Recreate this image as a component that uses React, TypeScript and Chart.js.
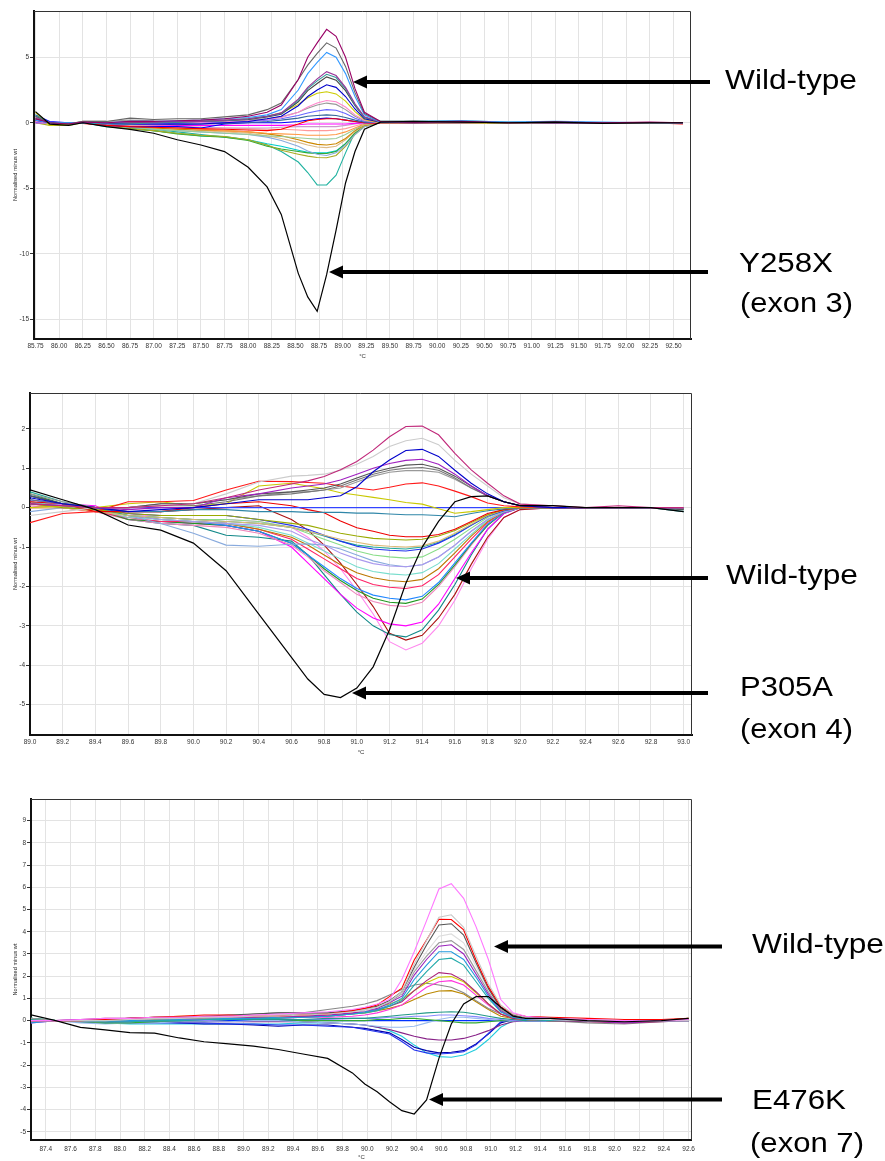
import React, { useEffect, useRef } from "react";
import { Chart, registerables } from "chart.js";

Chart.register(...registerables);

const FONT = "'Liberation Sans', Arial, Helvetica, sans-serif";

// ---------------- Panel 1 : exon 3 (Y258X) ----------------
const p1Temps = [85.75, 85.9, 86.1, 86.25, 86.5, 86.75, 87.0, 87.25, 87.5, 87.75, 88.0, 88.2, 88.35, 88.53, 88.63, 88.73, 88.83, 88.93, 89.03, 89.13, 89.23, 89.4, 89.75, 90.25, 90.75, 91.25, 91.75, 92.25, 92.6];
const p1XTicks = { min: 85.734, max: 92.685, step: 0.25, decimals: 2 };
const p1YTicks = { min: -16.51, max: 8.53, step: 5 };
const p1Y258X = [0.85, -0.1, -0.2, 0.0, -0.3, -0.5, -0.8, -1.3, -1.7, -2.2, -3.4, -4.9, -7.0, -11.5, -13.3, -14.4, -11.6, -8.2, -4.6, -2.2, -0.5, 0.05, 0.1, 0.05, 0.0, 0.05, -0.05, 0.0, 0.0];
const p1Purple = [0.3, 0.0, -0.1, 0.05, 0.0, 0.1, 0.1, 0.15, 0.2, 0.3, 0.5, 0.8, 1.35, 3.3, 5.0, 6.1, 7.13, 6.6, 5.0, 2.6, 0.8, 0.1, 0.05, 0.1, 0.0, 0.05, 0.0, 0.05, 0.0];
const p1DarkGrey = [0.5, 0.0, -0.1, 0.1, 0.1, 0.35, 0.25, 0.3, 0.3, 0.45, 0.6, 1.0, 1.5, 3.3, 4.4, 5.3, 6.1, 5.7, 4.3, 2.3, 0.7, 0.1, 0.1, 0.05, 0.0, 0.05, 0.0, 0.0, 0.0];
const p1Dodger = [0.2, 0.0, 0.0, 0.0, 0.0, 0.1, 0.1, 0.15, 0.2, 0.3, 0.4, 0.6, 1.0, 2.5, 3.75, 4.6, 5.37, 5.0, 3.75, 2.0, 0.6, 0.05, 0.1, 0.15, 0.05, 0.1, 0.05, 0.0, 0.0];
const p1Violet = [0.4, 0.0, -0.05, 0.05, 0.0, 0.05, 0.05, 0.1, 0.1, 0.2, 0.3, 0.5, 0.75, 1.8, 2.7, 3.35, 3.9, 3.6, 2.7, 1.45, 0.45, 0.05, 0.05, 0.05, 0.0, 0.0, 0.0, 0.0, 0.0];
const p1Teal = [0.6, 0.0, 0.0, 0.0, -0.1, -0.1, 0.0, 0.05, 0.1, 0.15, 0.3, 0.5, 0.7, 1.7, 2.6, 3.2, 3.7, 3.45, 2.6, 1.35, 0.4, 0.1, 0.1, 0.15, 0.05, 0.05, 0.0, 0.0, 0.0];
const p1Slate = [0.3, 0.0, 0.0, 0.0, 0.0, 0.0, 0.05, 0.05, 0.1, 0.15, 0.25, 0.45, 0.65, 1.6, 2.45, 3.0, 3.5, 3.25, 2.45, 1.3, 0.4, 0.05, 0.05, 0.05, 0.0, 0.0, 0.0, 0.0, 0.0];
const p1Navy = [0.2, 0.0, 0.0, 0.0, -0.05, -0.1, -0.1, -0.1, -0.1, 0.0, 0.1, 0.3, 0.5, 1.3, 2.0, 2.5, 2.9, 2.7, 2.0, 1.05, 0.3, 0.05, 0.0, 0.05, 0.0, 0.0, 0.0, 0.0, 0.0];
const p1Yellow = [0.8, -0.2, -0.1, 0.0, 0.0, 0.0, 0.05, 0.1, 0.15, 0.2, 0.3, 0.5, 0.75, 1.4, 1.9, 2.25, 2.37, 2.2, 1.65, 0.85, 0.25, 0.0, 0.0, 0.0, -0.05, 0.0, 0.0, -0.05, 0.0];
const p1Pink = [0.1, 0.0, 0.0, 0.0, 0.0, 0.0, 0.0, 0.05, 0.05, 0.1, 0.15, 0.25, 0.4, 0.8, 1.2, 1.5, 1.7, 1.6, 1.2, 0.6, 0.2, 0.0, 0.0, 0.0, 0.0, 0.0, 0.0, 0.0, 0.0];
const p1Grey = [0.3, 0.0, -0.1, 0.1, 0.1, 0.2, 0.15, 0.1, 0.1, 0.15, 0.2, 0.3, 0.45, 0.8, 1.1, 1.35, 1.5, 1.4, 1.0, 0.5, 0.15, 0.0, 0.0, 0.0, 0.0, 0.0, 0.0, 0.0, 0.0];
const p1Periwinkle = [0.0, 0.0, 0.0, 0.0, -0.05, -0.1, -0.1, -0.05, 0.0, 0.05, 0.1, 0.2, 0.3, 0.55, 0.75, 0.9, 1.0, 0.95, 0.7, 0.35, 0.1, 0.0, 0.0, 0.0, 0.0, 0.0, 0.0, 0.0, 0.0];
const p1Steel = [0.1, 0.0, 0.0, 0.0, -0.05, -0.1, -0.1, -0.15, -0.1, -0.05, 0.0, 0.1, 0.2, 0.35, 0.5, 0.55, 0.6, 0.55, 0.4, 0.2, 0.05, 0.0, 0.0, 0.0, 0.0, 0.0, 0.0, 0.0, 0.0];
const p1Red = [0.2, 0.0, 0.0, -0.05, -0.2, -0.3, -0.35, -0.4, -0.45, -0.5, -0.55, -0.6, -0.5, -0.1, 0.15, 0.25, 0.3, 0.3, 0.2, 0.1, 0.0, -0.05, -0.05, 0.0, 0.0, 0.0, 0.0, 0.0, -0.1];
const p1Blue = [0.6, 0.1, 0.0, 0.0, -0.2, -0.3, -0.3, -0.3, -0.4, -0.1, 0.0, 0.0, 0.0, 0.1, 0.2, 0.3, 0.35, 0.3, 0.2, 0.1, 0.0, 0.0, 0.0, 0.0, 0.0, 0.0, 0.0, 0.0, 0.0];
const p1Magenta = [0.0, 0.0, 0.0, 0.0, -0.1, -0.1, -0.15, -0.2, -0.2, -0.2, -0.2, -0.2, -0.2, -0.15, -0.1, -0.1, -0.1, -0.1, -0.1, -0.05, 0.0, 0.0, 0.0, 0.0, 0.0, 0.0, 0.0, 0.0, 0.0];
const p1Mauve = [0.0, 0.0, 0.0, 0.0, -0.1, -0.15, -0.2, -0.3, -0.35, -0.4, -0.4, -0.4, -0.35, -0.3, -0.3, -0.3, -0.3, -0.3, -0.2, -0.1, 0.0, 0.0, 0.0, 0.0, 0.0, 0.0, 0.0, 0.0, 0.0];
const p1Coral = [0.2, 0.0, 0.0, 0.0, -0.1, -0.2, -0.25, -0.3, -0.35, -0.4, -0.45, -0.5, -0.5, -0.55, -0.6, -0.6, -0.6, -0.55, -0.45, -0.25, -0.05, 0.0, 0.0, 0.0, 0.0, 0.0, 0.0, 0.0, 0.0];
const p1Salmon = [0.1, 0.0, 0.0, 0.0, -0.1, -0.2, -0.3, -0.4, -0.5, -0.6, -0.7, -0.8, -0.85, -0.9, -0.95, -0.95, -0.95, -0.9, -0.7, -0.4, -0.1, 0.0, 0.0, 0.0, 0.0, 0.0, 0.0, 0.0, 0.0];
const p1LightGreen = [0.3, 0.0, -0.1, 0.0, -0.2, -0.35, -0.5, -0.6, -0.7, -0.8, -0.9, -1.0, -1.05, -1.15, -1.2, -1.25, -1.25, -1.2, -0.9, -0.5, -0.15, 0.0, 0.0, 0.0, 0.0, 0.0, 0.0, 0.0, 0.0];
const p1Brown = [0.0, 0.0, 0.0, 0.0, -0.2, -0.3, -0.4, -0.5, -0.55, -0.6, -0.7, -0.85, -1.0, -1.3, -1.5, -1.65, -1.7, -1.6, -1.2, -0.6, -0.2, 0.0, 0.0, 0.0, 0.0, 0.0, 0.0, 0.0, 0.0];
const p1Tan = [0.0, 0.0, 0.0, 0.0, -0.2, -0.3, -0.4, -0.5, -0.6, -0.7, -0.8, -1.0, -1.2, -1.5, -1.7, -1.85, -1.9, -1.8, -1.3, -0.7, -0.2, 0.0, 0.0, 0.0, 0.0, 0.0, 0.0, 0.0, 0.0];
const p1LightBlue = [0.0, 0.0, 0.0, 0.0, -0.2, -0.35, -0.5, -0.6, -0.7, -0.8, -0.9, -1.1, -1.35, -1.8, -2.15, -2.4, -2.5, -2.3, -1.7, -0.9, -0.3, 0.0, 0.0, 0.0, 0.0, 0.0, 0.0, 0.0, 0.0];
const p1Olive = [0.0, -0.2, -0.2, 0.0, -0.2, -0.45, -0.6, -0.8, -0.95, -1.05, -1.3, -1.7, -2.1, -2.4, -2.55, -2.65, -2.67, -2.5, -1.8, -0.9, -0.3, 0.0, 0.0, 0.0, 0.0, 0.0, 0.0, 0.0, 0.0];
const p1Green = [0.2, 0.0, -0.1, 0.0, -0.25, -0.45, -0.6, -0.85, -1.0, -1.1, -1.35, -1.8, -2.0, -2.2, -2.3, -2.35, -2.35, -2.2, -1.6, -0.8, -0.25, 0.0, 0.0, 0.0, 0.0, 0.0, 0.0, 0.0, 0.0];
const p1Cyan = [0.3, 0.0, 0.0, 0.0, -0.3, -0.45, -0.6, -0.8, -1.0, -1.05, -1.3, -1.6, -1.8, -2.1, -2.25, -2.3, -2.3, -2.15, -1.6, -0.8, -0.2, 0.0, 0.0, 0.0, 0.0, 0.0, 0.0, 0.0, 0.0];
const p1Turquoise = [0.5, 0.0, -0.1, 0.0, -0.2, -0.4, -0.5, -0.7, -0.9, -1.1, -1.3, -1.7, -2.2, -3.0, -3.8, -4.75, -4.75, -4.0, -2.3, -0.7, 0.1, 0.05, 0.0, 0.0, 0.0, 0.0, 0.0, 0.0, 0.0];

const p1Lines: [number[], string][] = [
  [p1Y258X, "#000000"], [p1Purple, "#990066"], [p1DarkGrey, "#666666"], [p1Dodger, "#3399ff"],
  [p1Violet, "#993399"], [p1Teal, "#339999"], [p1Slate, "#444444"], [p1Navy, "#0000cc"],
  [p1Yellow, "#cccc00"], [p1Pink, "#ff88cc"], [p1Grey, "#999999"], [p1Periwinkle, "#6666ff"],
  [p1Steel, "#336699"], [p1Red, "#ff0000"], [p1Blue, "#0000ff"], [p1Magenta, "#ff00ff"],
  [p1Mauve, "#cc99cc"], [p1Coral, "#ff9999"], [p1Salmon, "#ff9944"], [p1LightGreen, "#99cc99"],
  [p1Brown, "#cc8800"], [p1Tan, "#ddbb88"], [p1LightBlue, "#88aadd"], [p1Olive, "#aaaa22"],
  [p1Green, "#33aa33"], [p1Cyan, "#00cccc"], [p1Turquoise, "#20b2a0"],
];

// ---------------- Panel 2 : exon 4 (P305A) ----------------
const p2Temps = [89.0, 89.2, 89.4, 89.6, 89.8, 90.0, 90.2, 90.4, 90.6, 90.7, 90.8, 90.9, 91.0, 91.1, 91.2, 91.3, 91.4, 91.5, 91.6, 91.7, 91.8, 91.9, 92.0, 92.2, 92.4, 92.6, 92.8, 93.0];
const p2XTicks = { min: 89.0, max: 93.051, step: 0.2, decimals: 1 };
const p2YTicks = { min: -5.77, max: 2.91, step: 1 };
const p2P305A = [0.45, 0.2, -0.05, -0.44, -0.57, -0.9, -1.6, -2.7, -3.8, -4.35, -4.74, -4.82, -4.58, -4.04, -3.1, -1.92, -1.0, -0.35, 0.15, 0.28, 0.3, 0.15, 0.05, 0.05, 0.0, 0.0, 0.0, -0.1];
const p2Maroon = [0.1, 0.05, 0.0, 0.0, 0.05, 0.1, 0.25, 0.45, 0.6, 0.68, 0.79, 0.96, 1.17, 1.46, 1.8, 2.06, 2.07, 1.85, 1.38, 0.96, 0.62, 0.3, 0.09, 0.05, 0.0, 0.05, 0.0, 0.0];
const p2LightGrey = [-0.2, -0.1, 0.0, 0.0, 0.05, 0.1, 0.35, 0.65, 0.8, 0.82, 0.85, 0.95, 1.1, 1.3, 1.55, 1.7, 1.76, 1.6, 1.2, 0.85, 0.55, 0.25, 0.1, 0.05, 0.0, 0.0, 0.0, 0.0];
const p2Navy = [0.25, 0.1, 0.0, -0.1, -0.05, 0.0, 0.1, 0.2, 0.2, 0.2, 0.25, 0.3, 0.53, 0.91, 1.21, 1.45, 1.48, 1.3, 0.95, 0.62, 0.35, 0.15, 0.05, 0.0, 0.0, 0.0, 0.0, 0.0];
const p2Purple = [0.1, 0.05, 0.0, -0.05, 0.0, 0.0, 0.25, 0.35, 0.5, 0.55, 0.6, 0.7, 0.85, 1.0, 1.12, 1.2, 1.23, 1.1, 0.85, 0.55, 0.3, 0.15, 0.05, 0.0, 0.0, 0.0, 0.0, 0.0];
const p2DarkGrey = [0.3, 0.1, 0.0, 0.0, 0.1, 0.1, 0.2, 0.35, 0.4, 0.45, 0.5, 0.6, 0.75, 0.9, 1.0, 1.08, 1.1, 1.0, 0.8, 0.55, 0.3, 0.15, 0.05, 0.0, 0.0, 0.0, 0.0, -0.05];
const p2Grey = [0.2, 0.1, 0.0, 0.0, 0.05, 0.05, 0.15, 0.3, 0.35, 0.4, 0.45, 0.55, 0.7, 0.85, 0.95, 1.0, 1.02, 0.95, 0.75, 0.5, 0.3, 0.15, 0.05, 0.0, 0.0, 0.0, 0.0, 0.0];
const p2Silver = [0.35, 0.15, 0.0, 0.0, 0.1, 0.1, 0.2, 0.3, 0.4, 0.4, 0.45, 0.5, 0.65, 0.8, 0.9, 0.94, 0.94, 0.9, 0.72, 0.5, 0.3, 0.15, 0.05, 0.0, 0.0, 0.0, 0.0, 0.0];
const p2Red = [-0.38, -0.15, -0.1, 0.15, 0.15, 0.18, 0.45, 0.67, 0.66, 0.64, 0.62, 0.55, 0.5, 0.45, 0.52, 0.6, 0.63, 0.55, 0.42, 0.28, 0.12, 0.05, 0.02, 0.0, 0.0, 0.0, 0.0, 0.0];
const p2Yellow = [0.0, 0.05, 0.0, 0.1, 0.15, 0.05, 0.1, 0.55, 0.62, 0.55, 0.48, 0.38, 0.32, 0.26, 0.2, 0.13, 0.09, -0.03, -0.14, -0.1, -0.05, 0.0, 0.0, 0.0, 0.0, 0.0, 0.0, 0.0];
const p2Baseline = [0.2, 0.1, 0.0, 0.0, 0.0, 0.0, 0.0, 0.0, 0.0, 0.0, 0.0, 0.0, 0.0, 0.0, 0.0, 0.0, 0.0, 0.0, 0.0, 0.0, 0.0, 0.0, 0.0, 0.0, 0.0, 0.0, 0.0, 0.0];
const p2Steel = [0.1, 0.05, 0.0, -0.1, -0.1, -0.05, -0.05, -0.1, -0.1, -0.12, -0.12, -0.12, -0.14, -0.14, -0.16, -0.18, -0.18, -0.2, -0.23, -0.15, -0.08, -0.03, 0.0, 0.0, 0.0, 0.0, 0.0, 0.0];
const p2Red2 = [0.15, 0.1, -0.1, -0.1, -0.1, 0.0, 0.1, 0.15, 0.05, -0.05, -0.13, -0.34, -0.51, -0.6, -0.7, -0.74, -0.74, -0.68, -0.55, -0.35, -0.15, -0.05, 0.0, 0.0, 0.0, 0.0, 0.0, 0.0];
const p2Olive = [0.1, 0.0, -0.05, -0.15, -0.2, -0.2, -0.2, -0.3, -0.4, -0.45, -0.55, -0.65, -0.72, -0.78, -0.8, -0.82, -0.8, -0.72, -0.58, -0.38, -0.18, -0.05, 0.0, 0.0, 0.0, 0.0, 0.0, 0.0];
const p2Tan = [0.0, 0.0, -0.1, -0.2, -0.25, -0.3, -0.35, -0.4, -0.5, -0.6, -0.7, -0.8, -0.88, -0.95, -0.98, -1.0, -0.97, -0.85, -0.65, -0.42, -0.2, -0.06, 0.0, 0.0, 0.0, 0.0, 0.0, 0.0];
const p2Blue = [0.3, 0.1, 0.0, -0.15, -0.2, -0.2, -0.2, -0.3, -0.45, -0.55, -0.7, -0.85, -0.98, -1.05, -1.08, -1.1, -1.05, -0.9, -0.7, -0.45, -0.22, -0.08, 0.0, 0.0, 0.0, 0.0, 0.0, 0.0];
const p2SeaGreen = [0.4, 0.15, 0.0, -0.2, -0.25, -0.3, -0.35, -0.4, -0.5, -0.6, -0.72, -0.85, -0.95, -1.0, -1.03, -1.05, -1.0, -0.88, -0.68, -0.44, -0.2, -0.06, 0.0, 0.0, 0.0, 0.0, 0.0, -0.05];
const p2LightGreen = [0.1, 0.05, -0.05, -0.2, -0.25, -0.3, -0.3, -0.35, -0.5, -0.65, -0.8, -0.95, -1.1, -1.2, -1.25, -1.28, -1.25, -1.05, -0.8, -0.52, -0.25, -0.08, 0.0, 0.0, 0.0, 0.0, 0.0, 0.0];
const p2Lavender = [0.2, 0.05, -0.05, -0.2, -0.3, -0.35, -0.4, -0.45, -0.6, -0.8, -0.95, -1.15, -1.3, -1.42, -1.48, -1.5, -1.45, -1.25, -0.95, -0.6, -0.3, -0.1, 0.0, 0.0, 0.0, 0.0, 0.0, 0.0];
const p2LightSteel = [-0.1, 0.0, -0.05, -0.2, -0.4, -0.65, -0.95, -0.98, -0.93, -0.92, -0.95, -1.05, -1.2, -1.35, -1.45, -1.5, -1.45, -1.25, -0.95, -0.6, -0.3, -0.1, 0.0, 0.0, 0.0, 0.0, 0.0, 0.0];
const p2Aqua = [0.15, 0.05, -0.05, -0.25, -0.3, -0.35, -0.4, -0.5, -0.7, -0.9, -1.1, -1.3, -1.5, -1.62, -1.68, -1.71, -1.65, -1.42, -1.05, -0.68, -0.32, -0.1, 0.0, 0.0, 0.0, 0.0, 0.0, 0.0];
const p2Brown = [0.0, 0.0, -0.05, -0.2, -0.3, -0.35, -0.4, -0.55, -0.75, -0.95, -1.2, -1.45, -1.65, -1.78, -1.85, -1.88, -1.82, -1.55, -1.15, -0.72, -0.35, -0.1, 0.0, 0.0, 0.0, 0.0, 0.0, 0.0];
const p2Crimson = [0.1, 0.0, -0.1, -0.25, -0.35, -0.35, -0.4, -0.55, -0.8, -1.05, -1.3, -1.55, -1.8, -1.95, -2.02, -2.05, -1.98, -1.7, -1.25, -0.8, -0.38, -0.1, 0.0, 0.0, 0.0, 0.0, 0.0, 0.0];
const p2Dodger = [0.1, 0.05, -0.05, -0.2, -0.3, -0.35, -0.45, -0.6, -0.9, -1.2, -1.5, -1.8, -2.05, -2.22, -2.3, -2.34, -2.25, -1.9, -1.4, -0.9, -0.42, -0.12, 0.0, 0.0, 0.0, 0.0, 0.0, 0.0];
const p2Green = [0.35, 0.1, -0.05, -0.3, -0.35, -0.4, -0.45, -0.6, -0.9, -1.2, -1.55, -1.85, -2.1, -2.3, -2.4, -2.43, -2.32, -1.95, -1.45, -0.92, -0.45, -0.12, 0.0, 0.0, 0.0, 0.0, 0.0, 0.0];
const p2Rose = [0.05, 0.0, -0.1, -0.3, -0.4, -0.45, -0.5, -0.65, -0.95, -1.25, -1.6, -1.9, -2.2, -2.38, -2.48, -2.51, -2.4, -2.0, -1.5, -0.95, -0.45, -0.12, 0.0, 0.0, 0.0, 0.0, 0.0, 0.0];
const p2Magenta = [0.0, 0.1, 0.05, -0.3, -0.35, -0.4, -0.45, -0.6, -1.0, -1.4, -1.8, -2.2, -2.55, -2.8, -2.95, -3.0, -2.9, -2.45, -1.8, -1.15, -0.55, -0.15, 0.0, 0.0, 0.0, 0.0, 0.0, 0.0];
const p2Teal = [0.3, 0.1, 0.0, -0.3, -0.4, -0.45, -0.7, -0.75, -0.85, -1.2, -1.7, -2.2, -2.65, -3.0, -3.22, -3.28, -3.1, -2.6, -1.95, -1.2, -0.55, -0.15, 0.0, 0.0, 0.0, 0.0, 0.0, -0.1];
const p2DarkRed = [0.15, 0.05, 0.0, -0.1, -0.1, -0.05, 0.0, 0.05, -0.3, -0.57, -0.95, -1.41, -1.95, -2.51, -3.19, -3.36, -3.24, -2.8, -2.2, -1.44, -0.75, -0.25, -0.05, 0.0, 0.0, 0.0, 0.0, 0.0];
const p2Orchid = [0.0, 0.0, -0.05, -0.15, -0.25, -0.3, -0.3, -0.35, -0.5, -0.75, -1.1, -1.55, -2.1, -2.7, -3.4, -3.61, -3.44, -3.0, -2.35, -1.55, -0.8, -0.25, -0.05, 0.0, 0.0, 0.0, 0.0, 0.0];

const p2Lines: [number[], string][] = [
  [p2P305A, "#000000"], [p2Maroon, "#c0287a"], [p2LightGrey, "#cccccc"], [p2Navy, "#0000cc"],
  [p2Purple, "#a020c0"], [p2DarkGrey, "#555555"], [p2Grey, "#777777"], [p2Silver, "#999999"],
  [p2Red, "#ff1a1a"], [p2Yellow, "#c8c800"], [p2Baseline, "#3344ff"], [p2Steel, "#2f86a8"],
  [p2Red2, "#ee0000"], [p2Olive, "#99aa00"], [p2Tan, "#ddbb77"], [p2Blue, "#2233ee"],
  [p2SeaGreen, "#22aa99"], [p2LightGreen, "#88dd88"], [p2Lavender, "#aa99ee"], [p2LightSteel, "#88aadd"],
  [p2Aqua, "#77ddcc"], [p2Brown, "#bb7700"], [p2Crimson, "#ff2266"], [p2Dodger, "#2288ff"],
  [p2Green, "#229922"], [p2Rose, "#ee88bb"], [p2Magenta, "#ff00ff"], [p2Teal, "#118888"],
  [p2DarkRed, "#aa1111"], [p2Orchid, "#ff88ee"],
];

// ---------------- Panel 3 : exon 7 (E476K) ----------------
const p3Temps = [87.28, 87.48, 87.68, 87.88, 88.08, 88.28, 88.48, 88.68, 88.88, 89.08, 89.28, 89.48, 89.68, 89.88, 89.98, 90.08, 90.18, 90.28, 90.38, 90.48, 90.58, 90.68, 90.78, 90.88, 90.98, 91.08, 91.18, 91.28, 91.48, 91.78, 92.08, 92.38, 92.6];
const p3XTicks = { min: 87.28, max: 92.627, step: 0.2, decimals: 1 };
const p3YTicks = { min: -5.37, max: 9.97, step: 1 };
const p3E476K = [0.26, 0.0, -0.3, -0.42, -0.54, -0.56, -0.78, -0.95, -1.05, -1.15, -1.3, -1.5, -1.7, -2.35, -2.85, -3.2, -3.65, -4.05, -4.2, -3.57, -1.7, -0.15, 0.75, 1.08, 1.08, 0.6, 0.2, 0.1, 0.1, 0.0, -0.05, 0.0, 0.1];
const p3Pink = [0.0, 0.0, 0.05, 0.1, 0.1, 0.15, 0.15, 0.2, 0.2, 0.25, 0.3, 0.35, 0.4, 0.5, 0.6, 0.75, 0.95, 1.85, 3.1, 4.5, 5.92, 6.16, 5.5, 4.23, 2.75, 0.95, 0.35, 0.2, 0.1, 0.05, 0.0, 0.0, 0.05];
const p3LightGrey = [0.0, 0.0, 0.0, 0.0, 0.05, 0.1, 0.1, 0.15, 0.15, 0.2, 0.2, 0.25, 0.3, 0.4, 0.5, 0.6, 0.85, 1.3, 2.55, 3.6, 4.65, 4.76, 4.2, 2.9, 1.65, 0.7, 0.3, 0.15, 0.1, 0.05, 0.0, 0.0, 0.0];
const p3Red = [0.0, 0.0, 0.0, 0.05, 0.1, 0.15, 0.2, 0.25, 0.25, 0.2, 0.2, 0.25, 0.3, 0.45, 0.55, 0.7, 1.08, 1.46, 2.73, 3.63, 4.56, 4.55, 4.08, 2.73, 1.53, 0.63, 0.3, 0.2, 0.15, 0.1, 0.05, 0.05, 0.1];
const p3DarkGrey = [0.0, 0.0, 0.0, 0.05, 0.1, 0.15, 0.15, 0.2, 0.25, 0.3, 0.35, 0.35, 0.35, 0.45, 0.55, 0.65, 0.9, 1.3, 2.4, 3.4, 4.3, 4.36, 3.85, 2.6, 1.45, 0.55, 0.25, 0.15, 0.1, 0.05, 0.0, 0.0, 0.05];
const p3Silver = [0.0, 0.0, 0.0, 0.05, 0.05, 0.1, 0.15, 0.15, 0.2, 0.2, 0.25, 0.25, 0.3, 0.4, 0.45, 0.6, 0.9, 1.25, 2.3, 3.1, 3.8, 3.9, 3.5, 2.45, 1.4, 0.55, 0.25, 0.1, 0.05, 0.0, 0.0, 0.0, 0.0];
const p3Grey = [0.1, 0.0, 0.0, 0.0, 0.05, 0.05, 0.1, 0.1, 0.15, 0.2, 0.25, 0.3, 0.3, 0.4, 0.5, 0.6, 0.85, 1.2, 2.2, 2.9, 3.5, 3.6, 3.2, 2.25, 1.3, 0.5, 0.2, 0.1, 0.05, 0.0, -0.05, 0.0, 0.05];
const p3Purple = [0.0, 0.0, 0.05, 0.05, 0.1, 0.1, 0.1, 0.15, 0.15, 0.15, 0.2, 0.2, 0.25, 0.35, 0.45, 0.55, 0.8, 1.1, 2.05, 2.75, 3.35, 3.41, 3.0, 2.1, 1.2, 0.45, 0.2, 0.1, 0.05, 0.0, -0.1, 0.0, 0.0];
const p3Dodger = [-0.1, 0.0, 0.0, 0.0, 0.0, 0.05, 0.05, 0.1, 0.1, 0.1, 0.15, 0.15, 0.2, 0.3, 0.4, 0.5, 0.7, 1.0, 1.85, 2.5, 3.1, 3.1, 2.75, 1.95, 1.1, 0.4, 0.15, 0.05, 0.05, 0.0, 0.0, 0.0, 0.0];
const p3Teal = [0.1, 0.0, 0.0, -0.05, -0.05, 0.0, 0.0, 0.05, 0.05, 0.1, 0.1, 0.15, 0.2, 0.3, 0.35, 0.45, 0.65, 0.9, 1.6, 2.2, 2.75, 2.81, 2.5, 1.75, 1.0, 0.4, 0.15, 0.05, 0.0, 0.0, 0.0, 0.0, 0.0];
const p3Maroon = [0.0, 0.0, 0.05, 0.1, 0.1, 0.15, 0.15, 0.15, 0.15, 0.2, 0.2, 0.2, 0.25, 0.35, 0.4, 0.5, 0.65, 0.85, 1.35, 1.8, 2.16, 2.1, 1.8, 1.3, 0.75, 0.3, 0.1, 0.05, 0.0, -0.05, -0.1, -0.05, 0.0];
const p3Yellow = [0.0, 0.0, 0.0, 0.05, 0.1, 0.15, 0.2, 0.2, 0.15, 0.15, 0.2, 0.25, 0.3, 0.4, 0.5, 0.6, 0.75, 0.95, 1.35, 1.7, 1.95, 1.98, 1.75, 1.25, 0.75, 0.3, 0.1, 0.05, 0.0, 0.0, 0.0, 0.0, 0.0];
const p3Magenta = [-0.1, 0.0, 0.0, 0.0, 0.0, 0.05, 0.05, 0.05, 0.1, 0.1, 0.1, 0.15, 0.15, 0.2, 0.25, 0.35, 0.5, 0.7, 1.1, 1.5, 1.75, 1.8, 1.6, 1.15, 0.7, 0.3, 0.1, 0.05, 0.0, 0.0, 0.0, 0.0, 0.0];
const p3Grey2 = [0.0, 0.0, 0.0, 0.05, 0.1, 0.1, 0.15, 0.15, 0.2, 0.3, 0.35, 0.35, 0.5, 0.65, 0.75, 0.9, 1.15, 1.4, 1.6, 1.68, 1.6, 1.5, 1.25, 0.9, 0.55, 0.3, 0.15, 0.05, 0.0, -0.1, -0.15, -0.05, 0.0];
const p3Gold = [0.0, 0.0, 0.0, 0.0, 0.05, 0.05, 0.1, 0.1, 0.1, 0.15, 0.15, 0.2, 0.2, 0.3, 0.35, 0.45, 0.55, 0.7, 0.95, 1.2, 1.33, 1.35, 1.2, 0.85, 0.5, 0.2, 0.1, 0.05, 0.0, 0.0, 0.0, 0.0, 0.0];
const p3SeaGreen = [0.05, 0.0, 0.0, 0.0, 0.0, 0.0, 0.0, 0.05, 0.05, 0.05, 0.05, 0.05, 0.1, 0.1, 0.1, 0.15, 0.2, 0.25, 0.3, 0.35, 0.38, 0.4, 0.38, 0.3, 0.2, 0.1, 0.05, 0.0, 0.0, 0.0, 0.0, 0.0, 0.0];
const p3Periwinkle = [0.0, 0.0, -0.05, -0.05, -0.05, 0.0, 0.0, 0.0, 0.05, 0.05, 0.05, 0.05, 0.05, 0.1, 0.1, 0.1, 0.15, 0.15, 0.2, 0.2, 0.25, 0.25, 0.22, 0.18, 0.1, 0.05, 0.0, 0.0, 0.0, 0.0, 0.0, 0.0, 0.0];
const p3Green = [0.1, 0.0, -0.05, -0.1, -0.1, -0.05, 0.0, 0.0, 0.05, 0.05, 0.05, 0.0, 0.0, 0.0, 0.0, 0.05, 0.05, 0.1, 0.1, 0.05, 0.0, -0.05, -0.1, -0.1, -0.05, 0.0, 0.0, 0.05, 0.05, 0.0, 0.0, 0.0, 0.1];
const p3LightBlue = [0.0, 0.0, -0.1, -0.15, -0.1, -0.1, -0.05, -0.05, -0.05, 0.0, 0.0, -0.05, -0.1, -0.15, -0.2, -0.25, -0.3, -0.3, -0.25, -0.1, 0.05, 0.15, 0.15, 0.1, 0.05, 0.0, 0.0, 0.0, 0.0, 0.0, 0.0, 0.0, 0.0];
const p3Plum = [0.0, 0.0, 0.0, 0.0, 0.0, -0.05, -0.05, -0.05, -0.05, -0.05, -0.05, -0.05, -0.1, -0.15, -0.2, -0.3, -0.4, -0.55, -0.7, -0.82, -0.87, -0.87, -0.8, -0.65, -0.45, -0.2, -0.05, 0.0, 0.0, 0.0, 0.0, 0.0, 0.0];
const p3Blue = [0.0, 0.0, -0.05, -0.1, -0.1, -0.1, -0.1, -0.1, -0.15, -0.15, -0.2, -0.2, -0.25, -0.3, -0.4, -0.5, -0.6, -0.94, -1.32, -1.45, -1.5, -1.47, -1.4, -1.09, -0.57, -0.05, 0.05, 0.0, 0.0, 0.0, 0.0, 0.0, 0.0];
const p3Navy = [0.0, 0.0, 0.0, -0.05, -0.05, -0.05, -0.1, -0.15, -0.15, -0.2, -0.25, -0.2, -0.2, -0.3, -0.35, -0.45, -0.55, -0.85, -1.2, -1.35, -1.45, -1.42, -1.35, -1.05, -0.6, -0.1, 0.05, 0.05, 0.0, 0.0, 0.0, 0.0, 0.0];
const p3Cyan = [0.1, 0.0, -0.05, -0.1, -0.15, -0.15, -0.15, -0.15, -0.15, -0.15, -0.15, -0.1, -0.1, -0.15, -0.2, -0.3, -0.45, -0.7, -1.1, -1.45, -1.62, -1.65, -1.55, -1.3, -0.85, -0.3, 0.0, 0.05, 0.0, 0.0, 0.0, 0.0, 0.0];
const p3Baseline = [-0.05, 0.0, 0.0, 0.0, 0.0, 0.0, 0.0, 0.0, 0.0, 0.0, 0.0, 0.0, 0.0, 0.0, 0.0, 0.0, 0.0, 0.0, 0.0, 0.0, 0.0, 0.0, 0.0, 0.0, 0.0, 0.0, 0.0, 0.0, 0.0, 0.0, 0.0, 0.0, 0.0];

const p3Lines: [number[], string][] = [
  [p3E476K, "#000000"], [p3Pink, "#ff77ff"], [p3LightGrey, "#c8c8c8"], [p3Red, "#ff0000"],
  [p3DarkGrey, "#555555"], [p3Silver, "#dddddd"], [p3Grey, "#999999"], [p3Purple, "#9922bb"],
  [p3Dodger, "#2299dd"], [p3Teal, "#22aaaa"], [p3Maroon, "#aa2277"], [p3Yellow, "#cccc00"],
  [p3Magenta, "#ff33dd"], [p3Grey2, "#888888"], [p3Gold, "#bb8800"], [p3SeaGreen, "#229988"],
  [p3Periwinkle, "#8888ff"], [p3Green, "#33aa33"], [p3LightBlue, "#99bbee"], [p3Plum, "#882288"],
  [p3Blue, "#2233ee"], [p3Navy, "#0000aa"], [p3Cyan, "#22ccdd"], [p3Baseline, "#0033ff"],
];

// ---------------- Annotations ----------------
const annotationTexts = [
  { text: "Wild-type", x: 725, y: 89, w: 132 },
  { text: "Y258X", x: 739, y: 272, w: 94 },
  { text: "(exon 3)", x: 740, y: 312, w: 113 },
  { text: "Wild-type", x: 726, y: 584, w: 132 },
  { text: "P305A", x: 740, y: 696, w: 93 },
  { text: "(exon 4)", x: 740, y: 738, w: 113 },
  { text: "Wild-type", x: 752, y: 953, w: 132 },
  { text: "E476K", x: 752, y: 1109, w: 94 },
  { text: "(exon 7)", x: 750, y: 1152, w: 114 },
];
const annotationArrows = [
  { tip: 353, y: 82, end: 710 },
  { tip: 329, y: 272, end: 708 },
  { tip: 456, y: 578, end: 708 },
  { tip: 352, y: 693, end: 708 },
  { tip: 494, y: 946.5, end: 722 },
  { tip: 429, y: 1099.5, end: 722 },
];

const panels = [
  { temps: p1Temps, lines: p1Lines, xt: p1XTicks, yt: p1YTicks, top: 0, height: 360, padTop: 11, padRight: 9, yW: 34, xH: 21, labelPad: 3 },
  { temps: p2Temps, lines: p2Lines, xt: p2XTicks, yt: p2YTicks, top: 380, height: 376, padTop: 13, padRight: 8, yW: 30, xH: 21, labelPad: 3 },
  { temps: p3Temps, lines: p3Lines, xt: p3XTicks, yt: p3YTicks, top: 790, height: 371, padTop: 9, padRight: 8, yW: 31, xH: 21, labelPad: 5 },
];

const framePlugin = {
  id: "frame",
  afterDatasetsDraw(chart: any) {
    const { ctx, chartArea: a } = chart;
    ctx.save();
    ctx.strokeStyle = "#333333";
    ctx.lineWidth = 1;
    ctx.beginPath();
    ctx.moveTo(a.left, a.top + 0.5);
    ctx.lineTo(a.right - 0.5, a.top + 0.5);
    ctx.lineTo(a.right - 0.5, a.bottom);
    ctx.stroke();
    ctx.restore();
  },
};

function Panel({ cfg }: { cfg: any }) {
  const ref = useRef<HTMLCanvasElement>(null);
  useEffect(() => {
    const tickFont = { family: FONT, size: 6.5 };
    const chart = new Chart(ref.current as HTMLCanvasElement, {
      type: "line",
      data: {
        datasets: cfg.lines.map(([vals, color]: [number[], string], k: number) => ({
          data: cfg.temps.map((x: number, i: number) => ({ x, y: vals[i] })),
          borderColor: color,
          borderWidth: k === 0 ? 1.2 : 1.1,
          pointRadius: 0,
          tension: 0,
          fill: false,
        })),
      },
      options: {
        responsive: false,
        animation: false,
        events: [],
        layout: { padding: { top: cfg.padTop, right: cfg.padRight, left: 0, bottom: 0 } },
        plugins: { legend: { display: false }, tooltip: { enabled: false } },
        scales: {
          x: {
            type: "linear",
            min: cfg.xt.min,
            max: cfg.xt.max,
            afterFit: (s: any) => { s.height = cfg.xH; },
            border: { display: true, color: "#111111", width: 2 },
            grid: { color: "#e3e3e3", lineWidth: 1, drawTicks: false },
            ticks: {
              stepSize: cfg.xt.step,
              includeBounds: false,
              autoSkip: false,
              maxRotation: 0,
              minRotation: 0,
              padding: cfg.labelPad,
              color: "#333333",
              font: tickFont,
              callback: (v: any) => Number(v).toFixed(cfg.xt.decimals),
            },
            title: { display: true, text: "\u00B0C", color: "#333333", font: { family: FONT, size: 6 }, padding: { top: 0, bottom: 0 } },
          },
          y: {
            type: "linear",
            min: cfg.yt.min,
            max: cfg.yt.max,
            afterFit: (s: any) => { s.width = cfg.yW; },
            border: { display: true, color: "#111111", width: 2 },
            grid: { color: "#e3e3e3", lineWidth: 1, drawTicks: true, tickLength: 4, tickColor: "#333333" },
            ticks: {
              stepSize: cfg.yt.step,
              includeBounds: false,
              autoSkip: false,
              padding: 1,
              color: "#333333",
              font: tickFont,
              callback: (v: any) => String(Math.round(Number(v))),
            },
            title: { display: true, text: "Normalised minus wt", color: "#222222", font: { family: FONT, size: 5.6 }, padding: { top: 11.6, bottom: 0 } },
          },
        },
      } as any,
      plugins: [framePlugin],
    });
    return () => chart.destroy();
  }, []);
  return (
    <canvas
      ref={ref}
      width={700}
      height={cfg.height}
      style={{ position: "absolute", left: 0, top: cfg.top, width: 700, height: cfg.height }}
    />
  );
}

export default function App() {
  return (
    <div style={{ position: "absolute", left: 0, top: 0, width: 885, height: 1161, background: "#ffffff", overflow: "hidden" }}>
      {panels.map((p, i) => (
        <Panel key={i} cfg={p} />
      ))}
      <svg width={885} height={1161} style={{ position: "absolute", left: 0, top: 0, pointerEvents: "none" }}>
        {annotationArrows.map((a, i) => (
          <g key={i} fill="#000000">
            <rect x={a.tip + 12} y={a.y - 2} width={a.end - a.tip - 12} height={4} />
            <polygon points={`${a.tip},${a.y} ${a.tip + 14},${a.y - 6.5} ${a.tip + 14},${a.y + 6.5}`} />
          </g>
        ))}
        {annotationTexts.map((t, i) => (
          <text
            key={i}
            x={t.x}
            y={t.y}
            fontSize={28}
            fontFamily={FONT}
            fill="#000000"
            textLength={t.w}
            lengthAdjust="spacingAndGlyphs"
          >
            {t.text}
          </text>
        ))}
      </svg>
    </div>
  );
}
